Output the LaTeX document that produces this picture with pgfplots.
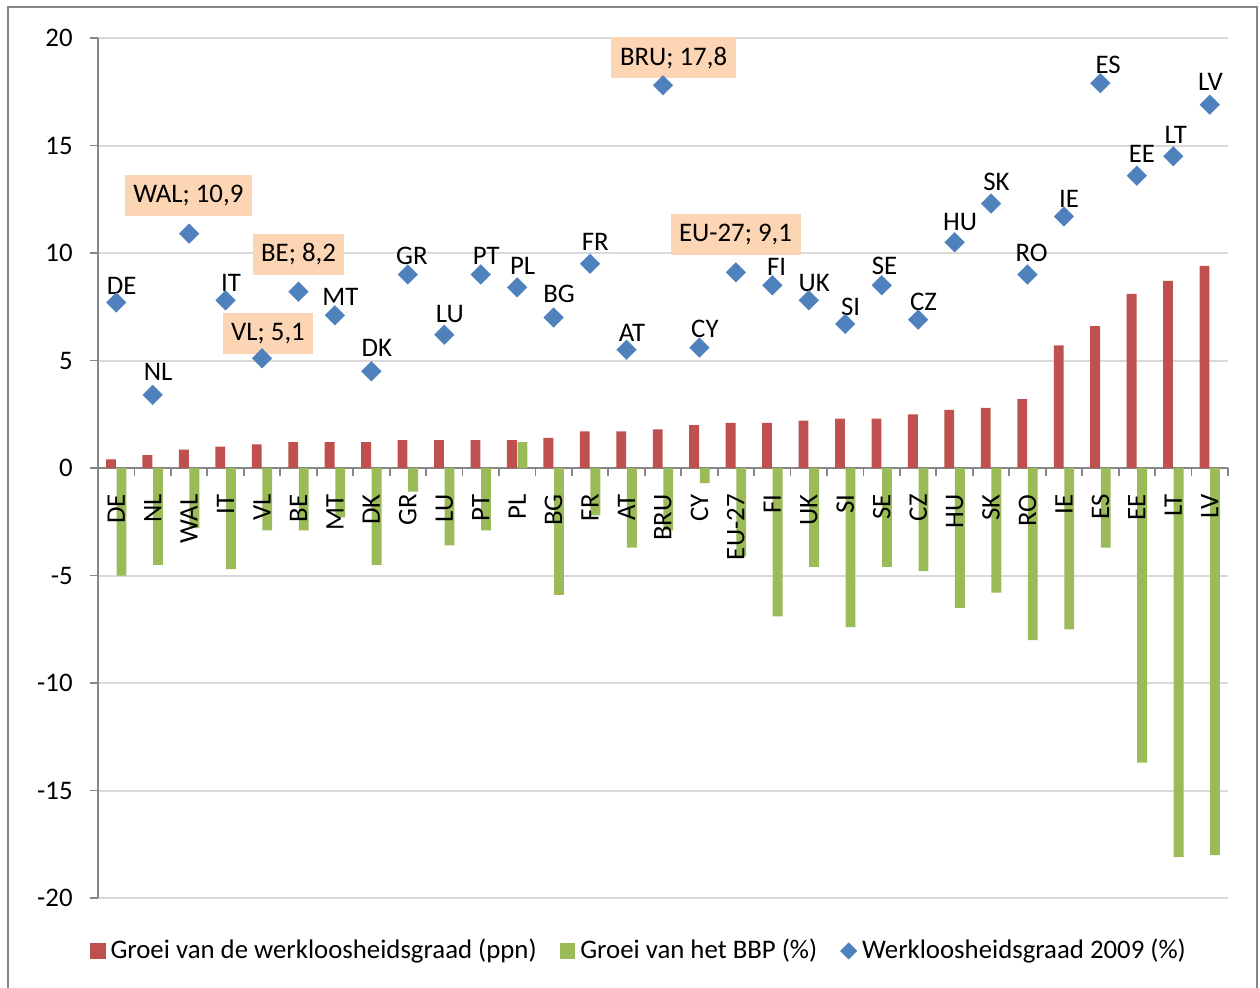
\documentclass[border=0pt]{standalone}
\usepackage{fontspec}
\setmainfont{Carlito}
\usepackage{pgfplots}
\pgfplotsset{compat=1.18}
\definecolor{barred}{HTML}{C0504D}
\definecolor{bargreen}{HTML}{9BBB59}
\definecolor{barblue}{HTML}{4F81BD}
\definecolor{gridgray}{HTML}{D9D9D9}
\definecolor{axisgray}{HTML}{868686}
\definecolor{peach}{HTML}{FCD5B5}
\newcommand\xl[2]{\node[rotate=90, anchor=east, inner sep=0pt] at ([yshift=-13pt]axis cs:#1,0) {#2};}
\begin{document}
\fontsize{13.4}{16}\selectfont
\begin{tikzpicture}
\begin{axis}[
  at={(0pt,0pt)}, anchor=south west,
  scale only axis, width=565pt, height=430pt,
  xmin=-0.5, xmax=30.5, ymin=-20, ymax=20,
  axis x line=middle, axis y line=left,
  hide obscured x ticks=false, hide obscured y ticks=false,
  axis line style={draw=axisgray, line width=0.9pt, -},
  ytick={-20,-15,...,20},
  ymajorgrids, grid style={draw=gridgray, line width=1pt},
  xtick={0,...,30},
  xticklabels={},
  minor xtick={-0.5,0.5,...,30.5},
  xminorgrids=false,
  tick align=outside,
  major tick length=4pt, minor tick length=4pt,
  every tick/.style={draw=axisgray, line width=0.9pt},
  x tick style={draw=none},
  minor x tick style={draw=axisgray, line width=0.9pt},
  yticklabel style={anchor=east, inner sep=0pt, xshift=-8.5pt},
  /pgf/number format/assume math mode=true,
  legend columns=3,
  legend cell align=left,
  legend style={at={(0.480,-0.0616)}, anchor=center, draw=none, fill=none,
    /tikz/every even column/.append style={column sep=9pt},
    nodes={inner sep=1.5pt, inner xsep=2.5pt}},
  clip=false,
]
\addplot[ybar, bar width=0.27, bar shift=-0.145, fill=barred, draw=none,
  legend image code/.code={\fill[barred] (0pt,-3.9pt) rectangle (7.8pt,3.9pt);}]
coordinates {(0,0.4) (1,0.6) (2,0.85) (3,1.0) (4,1.1) (5,1.2) (6,1.2) (7,1.2) (8,1.3) (9,1.3) (10,1.3) (11,1.3) (12,1.4) (13,1.7) (14,1.7) (15,1.8) (16,2.0) (17,2.1) (18,2.1) (19,2.2) (20,2.3) (21,2.3) (22,2.5) (23,2.7) (24,2.8) (25,3.2) (26,5.7) (27,6.6) (28,8.1) (29,8.7) (30,9.4)};
\addlegendentry{Groei van de werkloosheidsgraad (ppn)}
\addplot[ybar, bar width=0.27, bar shift=0.145, fill=bargreen, draw=none,
  legend image code/.code={\fill[bargreen] (0pt,-3.9pt) rectangle (7.8pt,3.9pt);}]
coordinates {(0,-5.0) (1,-4.5) (2,-2.8) (3,-4.7) (4,-2.9) (5,-2.9) (6,-2.3) (7,-4.5) (8,-1.1) (9,-3.6) (10,-2.9) (11,1.2) (12,-5.9) (13,-2.2) (14,-3.7) (15,-2.9) (16,-0.7) (17,-4.1) (18,-6.9) (19,-4.6) (20,-7.4) (21,-4.6) (22,-4.8) (23,-6.5) (24,-5.8) (25,-8.0) (26,-7.5) (27,-3.7) (28,-13.7) (29,-18.1) (30,-18.0)};
\addlegendentry{Groei van het BBP (\%)}
\addplot[only marks, color=barblue, mark=square*, mark size=3.5pt, mark options={rotate=45, fill=barblue, draw=barblue, line width=0.1pt},
  legend image code/.code={\fill[barblue] (4pt,4pt) -- (8pt,0pt) -- (4pt,-4pt) -- (0pt,0pt) -- cycle;}]
coordinates {(0,7.7) (1,3.4) (2,10.9) (3,7.8) (4,5.1) (5,8.2) (6,7.1) (7,4.5) (8,9.0) (9,6.2) (10,9.0) (11,8.4) (12,7.0) (13,9.5) (14,5.5) (15,17.8) (16,5.6) (17,9.1) (18,8.5) (19,7.8) (20,6.7) (21,8.5) (22,6.9) (23,10.5) (24,12.3) (25,9.0) (26,11.7) (27,17.9) (28,13.6) (29,14.5) (30,16.9)};
\addlegendentry{Werkloosheidsgraad 2009 (\%)}
% x axis category labels (drawn on top of the bars)
\xl{0}{DE}\xl{1}{NL}\xl{2}{WAL}\xl{3}{IT}\xl{4}{VL}\xl{5}{BE}\xl{6}{MT}\xl{7}{DK}
\xl{8}{GR}\xl{9}{LU}\xl{10}{PT}\xl{11}{PL}\xl{12}{BG}\xl{13}{FR}\xl{14}{AT}\xl{15}{BRU}
\xl{16}{CY}\xl{17}{EU-27}\xl{18}{FI}\xl{19}{UK}\xl{20}{SI}\xl{21}{SE}\xl{22}{CZ}\xl{23}{HU}
\xl{24}{SK}\xl{25}{RO}\xl{26}{IE}\xl{27}{ES}\xl{28}{EE}\xl{29}{LT}\xl{30}{LV}
% data labels
\node at (axis cs:0.15,8.49) {DE};
\node at (axis cs:1.15,4.47) {NL};
\node at (axis cs:3.15,8.59) {IT};
\node at (axis cs:6.15,7.94) {MT};
\node at (axis cs:7.15,5.57) {DK};
\node at (axis cs:8.11,9.88) {GR};
\node at (axis cs:9.15,7.18) {LU};
\node at (axis cs:10.15,9.88) {PT};
\node at (axis cs:11.15,9.38) {PL};
\node at (axis cs:12.15,8.10) {BG};
\node at (axis cs:13.14,10.50) {FR};
\node at (axis cs:14.15,6.30) {AT};
\node at (axis cs:16.15,6.48) {CY};
\node at (axis cs:18.12,9.34) {FI};
\node at (axis cs:19.15,8.60) {UK};
\node at (axis cs:20.15,7.50) {SI};
\node at (axis cs:21.08,9.38) {SE};
\node at (axis cs:22.15,7.74) {CZ};
\node at (axis cs:23.15,11.43) {HU};
\node at (axis cs:24.15,13.30) {SK};
\node at (axis cs:25.11,10.00) {RO};
\node at (axis cs:26.14,12.50) {IE};
\node at (axis cs:27.21,18.74) {ES};
\node at (axis cs:28.14,14.60) {EE};
\node at (axis cs:29.07,15.50) {LT};
\node at (axis cs:30.02,17.97) {LV};
\tikzset{boxlab/.style={fill=peach, inner xsep=4.3pt, inner ysep=0pt, minimum height=20.3pt}}
\node[boxlab] at (axis cs:1.977,12.68) {WAL; 10,9};
\node[boxlab] at (axis cs:5.0,9.94) {BE; 8,2};
\node[boxlab] at (axis cs:4.164,6.26) {VL; 5,1};
\node[boxlab] at (axis cs:15.29,19.09) {BRU; 17,8};
\node[boxlab] at (axis cs:16.99,10.86) {EU-27; 9,1};
\end{axis}
\pgfresetboundingbox
\useasboundingbox (-49pt,-44.5pt) rectangle (581pt,449pt);
\draw[axisgray, line width=1pt] (-45pt,-60pt) rectangle (579.3pt,445.5pt);
\end{tikzpicture}
\end{document}
